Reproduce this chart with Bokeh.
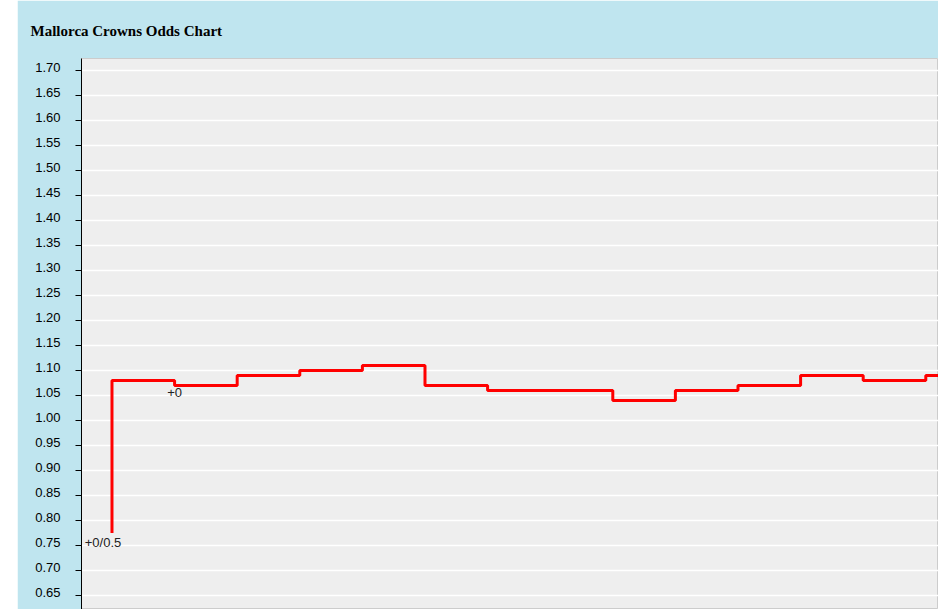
from bokeh.plotting import figure
from bokeh.models import (FixedTicker, NumeralTickFormatter, Range1d, ColumnDataSource,
                          Spacer, LinearAxis)
from bokeh.layouts import row
from bokeh.embed import file_html
from bokeh.resources import INLINE
from bokeh.core.properties import value

# Data
title_text = "Mallorca Crowns Odds Chart"
step_t = [0, 0, 1, 2, 3, 4, 5, 6, 7, 8, 9, 10, 11, 12, 13, 14]
odds = [0.775, 1.08, 1.07, 1.09, 1.10, 1.11, 1.07, 1.06, 1.06, 1.04, 1.06, 1.07, 1.09, 1.08, 1.09, 1.09]
hcap_t = [0, 1]
hcap_odds = [0.775, 1.07]
hcap_labels = ["+0/0.5", "+0"]
y_ticks = [0.65, 0.70, 0.75, 0.80, 0.85, 0.90, 0.95, 1.00, 1.05, 1.10, 1.15, 1.20,
           1.25, 1.30, 1.35, 1.40, 1.45, 1.50, 1.55, 1.60, 1.65, 1.70]

BLUE = "#bfe5ef"
Y0, Y1 = 0.622, 1.724
LABEL_SHIFT = 0.007  # labels sit ~3.5px above their ticks

p = figure(width=921, height=609, output_backend="svg", toolbar_location=None,
           x_range=Range1d(-0.487, 13.203), y_range=Range1d(Y0, Y1),
           min_border_left=64, min_border_right=0, min_border_top=58, min_border_bottom=0)
p.background_fill_color = "#eeeeee"
p.border_fill_color = BLUE
p.outline_line_color = "#cccccc"
p.xaxis.visible = False
p.xgrid.visible = False
p.ygrid.grid_line_color = "white"
p.ygrid.grid_line_width = 1.5
p.ygrid.ticker = FixedTicker(ticks=y_ticks)

p.title.text = title_text
p.title.align = "left"
p.title.offset = -51
p.title.standoff = 40
p.title.text_font = "Liberation Serif"
p.title.text_font_size = "15px"
p.title.text_font_style = "bold"
p.title.text_color = "black"

# main axis: line and ticks only
ax = p.yaxis[0]
ax.ticker = FixedTicker(ticks=y_ticks)
ax.axis_line_color = "black"
ax.major_tick_line_color = "black"
ax.major_tick_out = 6
ax.major_tick_in = 0
ax.minor_tick_line_color = None
ax.major_label_standoff = 0
ax.major_label_text_font_size = "0px"
ax.major_label_text_alpha = 0

# label axis on a slightly shifted range
p.extra_y_ranges = {"lab": Range1d(Y0 - LABEL_SHIFT, Y1 - LABEL_SHIFT)}
lab = LinearAxis(y_range_name="lab", ticker=FixedTicker(ticks=y_ticks),
                 formatter=NumeralTickFormatter(format="0.00"))
lab.axis_line_color = None
lab.major_tick_line_color = None
lab.minor_tick_line_color = None
lab.major_tick_out = 0
lab.major_tick_in = 0
lab.major_label_standoff = 15
lab.major_label_text_font = "Liberation Sans"
lab.major_label_text_font_size = "13px"
lab.major_label_text_color = "black"
p.add_layout(lab, "left")

p.step(step_t, odds, mode="after", line_color="#ff0000", line_width=3)

src = ColumnDataSource(dict(x=hcap_t, y=hcap_odds, t=hcap_labels, xo=[-9, 0]))
p.text(x="x", y="y", text="t", source=src, x_offset="xo", y_offset=2,
       text_align="center", text_baseline="top", text_font=value("Liberation Sans"),
       text_font_size="13px", text_color="#222222")

layout = row(Spacer(width=17, height=609), p)
open("out.html", "w").write(file_html(layout, INLINE))
